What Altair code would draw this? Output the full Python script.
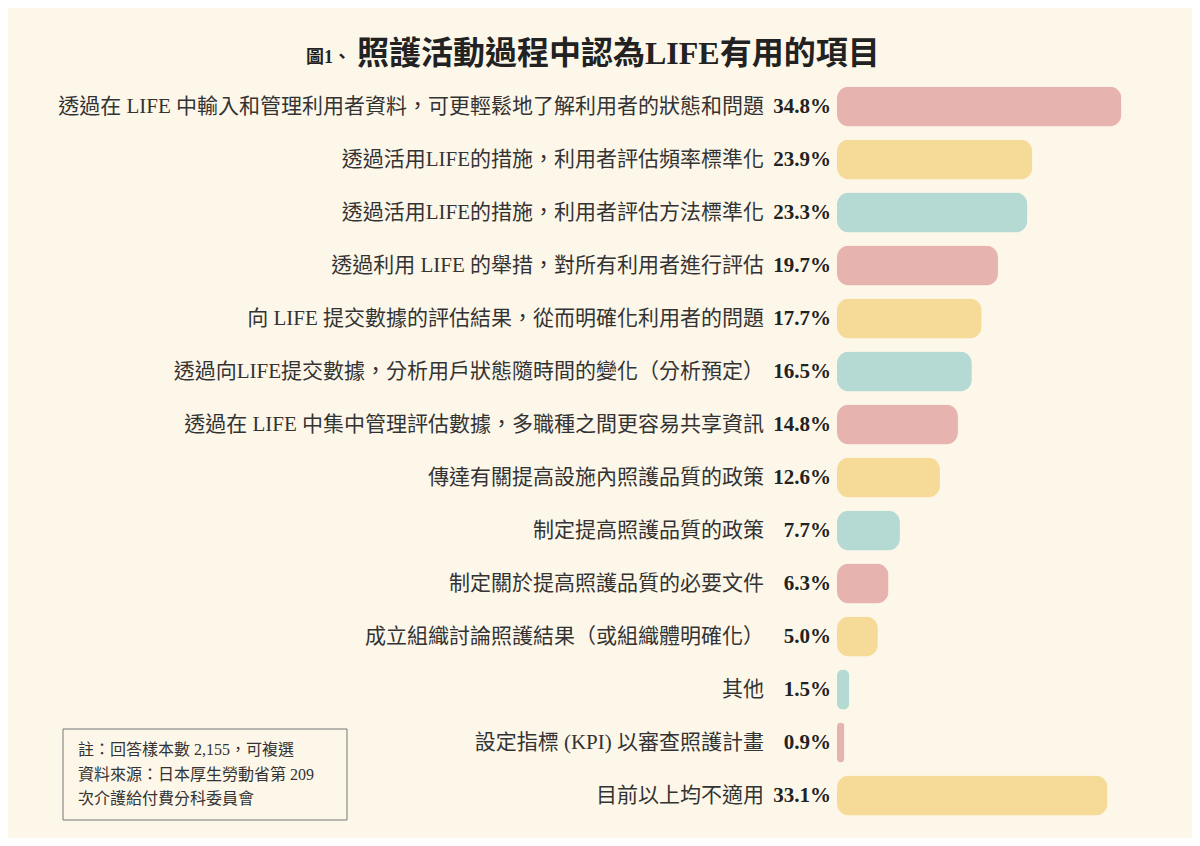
import altair as alt
import pandas as pd

categories = [
    "透過在 LIFE 中輸入和管理利用者資料，可更輕鬆地了解利用者的狀態和問題",
    "透過活用LIFE的措施，利用者評估頻率標準化",
    "透過活用LIFE的措施，利用者評估方法標準化",
    "透過利用 LIFE 的舉措，對所有利用者進行評估",
    "向 LIFE 提交數據的評估結果，從而明確化利用者的問題",
    "透過向LIFE提交數據，分析用戶狀態隨時間的變化（分析預定）",
    "透過在 LIFE 中集中管理評估數據，多職種之間更容易共享資訊",
    "傳達有關提高設施內照護品質的政策",
    "制定提高照護品質的政策",
    "制定關於提高照護品質的必要文件",
    "成立組織討論照護結果（或組織體明確化）",
    "其他",
    "設定指標 (KPI) 以審查照護計畫",
    "目前以上均不適用",
]
values = [34.8, 23.9, 23.3, 19.7, 17.7, 16.5, 14.8, 12.6, 7.7, 6.3, 5.0, 1.5, 0.9, 33.1]
note_lines = [
    "註：回答樣本數 2,155，可複選",
    "資料來源：日本厚生勞動省第 209",
    "次介護給付費分科委員會",
]
title_prefix = "圖1、"
title_main = "照護活動過程中認為LIFE有用的項目"

palette = ["#E7B3AE", "#F6DA98", "#B5D9D3"]
FONT = "Liberation Serif, Noto Sans CJK TC"

df = pd.DataFrame({"item": categories, "pct": values})
df["grp"] = [str(i % 3) for i in range(len(df))]
df["pct_label"] = df["pct"].map(lambda v: f"{v:.1f}%")

y_enc = alt.Y("item:N", sort=categories, axis=None,
              scale=alt.Scale(paddingInner=0.245, paddingOuter=0.1225))

base = alt.Chart(df)

bars = base.mark_bar(cornerRadius=12).encode(
    x=alt.X("pct:Q", axis=None, scale=alt.Scale(domain=[0, 35], nice=False)),
    y=y_enc,
    color=alt.Color("grp:N", legend=None,
                    scale=alt.Scale(domain=["0", "1", "2"], range=palette)),
)

labels = base.mark_text(align="right", baseline="middle", font=FONT,
                        fontSize=21, color="#333333").encode(
    x=alt.value(-73), y=y_enc, text="item:N"
)

pcts = base.mark_text(align="right", baseline="middle", font=FONT,
                      fontSize=21, fontWeight="bold", color="#222222").encode(
    x=alt.value(-6), y=y_enc, text="pct_label:N"
)

one = alt.Chart(pd.DataFrame({"k": [0]}))

t1 = one.mark_text(align="left", baseline="alphabetic", font=FONT, fontSize=18,
                   fontWeight="bold", color="#222222", text=title_prefix).encode(
    x=alt.value(-531), y=alt.value(-17)
)
t2 = one.mark_text(align="left", baseline="alphabetic", font=FONT, fontSize=32,
                   fontWeight="bold", color="#222222", text=title_main).encode(
    x=alt.value(-480), y=alt.value(-16)
)

box = one.mark_rect(fill="#FDF7EA", stroke="#777777", strokeWidth=1).encode(
    x=alt.value(-774), x2=alt.value(-490), y=alt.value(649), y2=alt.value(740)
)

note_df = pd.DataFrame({"line": note_lines, "n": list(range(len(note_lines)))})
notes = alt.Chart(note_df).mark_text(align="left", baseline="middle", font=FONT,
                                     fontSize=16, color="#333333").encode(
    x=alt.value(-759),
    y=alt.Y("n:Q", axis=None,
            scale=alt.Scale(domain=[0, 2], range=[670, 719], nice=False, zero=False)),
    text="line:N",
)

chart = alt.layer(bars, labels, pcts, t1, t2, box, notes).resolve_scale(
    y="independent"
).properties(
    width=286,
    height=742,
    autosize=alt.AutoSizeParams(type="none"),
    padding={"left": 829, "top": 72, "right": 69, "bottom": 16},
    background="#FDF7EA",
).configure_view(stroke=None)

chart.save("out.html", embed_options={"renderer": "svg", "actions": False})
